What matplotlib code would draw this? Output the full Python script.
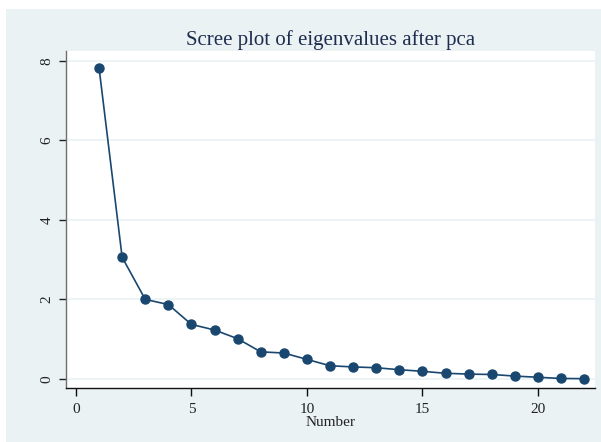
import matplotlib
matplotlib.use("Agg")
import matplotlib.pyplot as plt
from matplotlib.patches import Rectangle

number = list(range(1, 23))
eigenvalues = [7.83, 3.06, 2.00, 1.87, 1.37, 1.23, 1.01, 0.68, 0.65, 0.49, 0.33,
               0.30, 0.28, 0.23, 0.19, 0.14, 0.12, 0.11, 0.07, 0.04, 0.01, 0.005]
x_ticks = [0, 5, 10, 15, 20]
y_ticks = [0, 2, 4, 6, 8]

BG = "#eaf2f3"
NAVY = "#1a476f"
W, H = 601, 442

plt.rcParams["font.family"] = ["Liberation Serif", "DejaVu Serif"]

fig = plt.figure(figsize=(W / 100, H / 100), dpi=100)
fig.patch.set_facecolor("white")
fig.patches.append(Rectangle((6 / W, 0), 1 - 6 / W, 1 - 9 / H,
                             transform=fig.transFigure, facecolor=BG,
                             edgecolor="none", zorder=-10))

ax = fig.add_axes([66 / W, 1 - 388 / H, (595 - 66) / W, (388 - 51) / H])
ax.set_facecolor("white")

ax.plot(number, eigenvalues, color=NAVY, lw=1.2, marker="o", ms=6.5,
        markerfacecolor=NAVY, markeredgecolor=NAVY, zorder=3, clip_on=False)

ax.set_xlim(-0.43, 22.47)
ax.set_ylim(-0.23, 8.25)
ax.set_xticks(x_ticks)
ax.set_yticks(y_ticks)
ax.yaxis.grid(True, color=BG, lw=1.2)
ax.set_axisbelow(True)

for side in ("top", "right"):
    ax.spines[side].set_visible(False)
ax.spines["left"].set_color("#6e6e6e")
ax.spines["bottom"].set_color("#111111")
ax.spines["left"].set_linewidth(1.0)
ax.spines["bottom"].set_linewidth(1.0)

ax.tick_params(axis="x", length=6, width=1, color="#111111", labelsize=11,
               pad=5, labelcolor="#222222")
ax.tick_params(axis="y", length=5, width=1, color="#222222", labelsize=11,
               pad=4, labelcolor="#222222")
for lab in ax.get_yticklabels():
    lab.set_rotation(90)
    lab.set_va("center")

ax.set_xlabel("Number", fontsize=11, color="#222222", labelpad=0)
fig.text((66 + 595) / 2 / W, 1 - 40 / H, "Scree plot of eigenvalues after pca",
         ha="center", va="center", fontsize=15, color="#1e2d4f")

fig.savefig("out.png", dpi=100, facecolor=fig.get_facecolor())
